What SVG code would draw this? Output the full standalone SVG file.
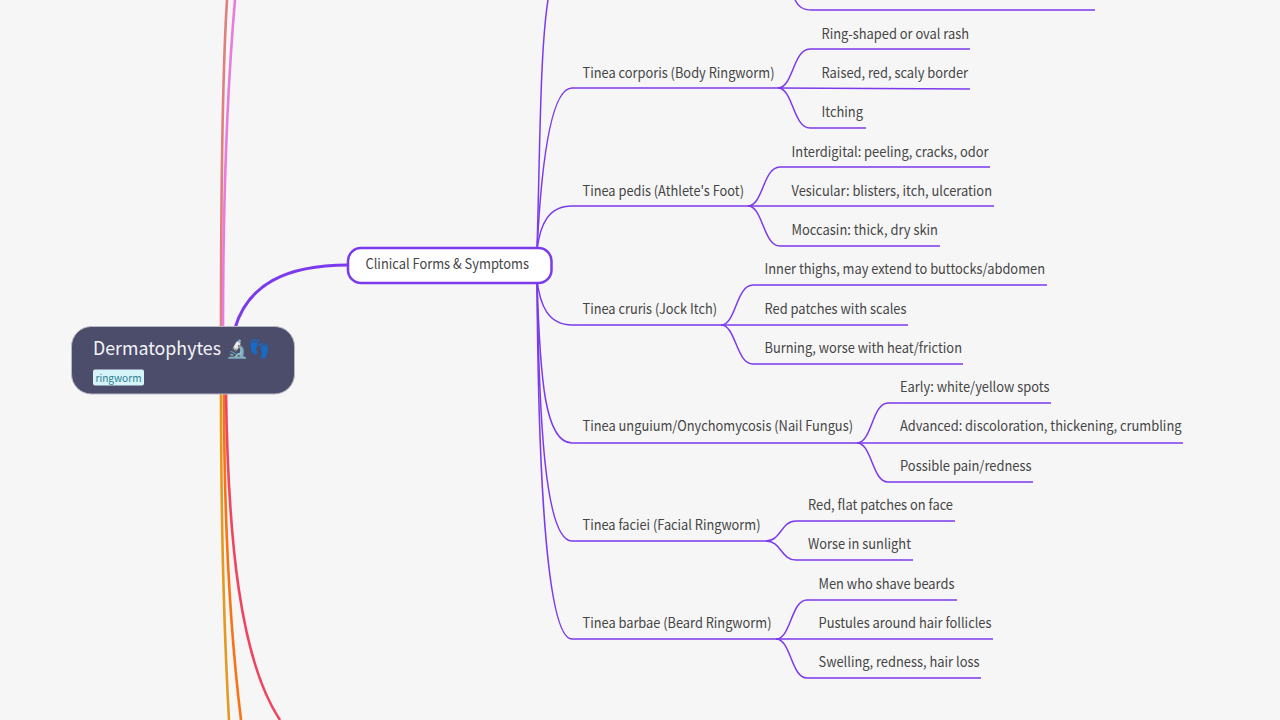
<svg xmlns="http://www.w3.org/2000/svg" width="1280" height="720" viewBox="0 0 1280 720">
<style>
text{font-family:"Noto Sans CJK SC","Noto Sans",sans-serif;fill:#454545}
.t{font-size:14px}
.l{fill:none;stroke:#7c3aed;stroke-width:1.5}
.m{fill:none;stroke-width:2.6}
</style>
<rect width="1280" height="720" fill="#f6f6f6"/>
<g id="connectors">
<path class="m" stroke="#e07f7f" d="M221 330C221 200 222 80 227 0"/>
<path class="m" stroke="#ea7bdc" d="M223 330C223 200 228 80 235 0"/>
<path class="m" stroke="#e39a22" d="M221 392C221 520 224 630 229 720"/>
<path class="m" stroke="#f97316" d="M224 392C224 520 230 630 241 720"/>
<path class="m" stroke="#ef4560" d="M226 392C228 540 240 660 280 720"/>
<path fill="none" stroke="#7c3aed" stroke-width="3" d="M235 328C248 285 285 265 348 265"/>
<path class="l" d="M537 250C540 150 540 50 548 0"/>
<path class="l" d="M537 250C541 170 550 88 572 88H778"/>
<path class="l" d="M537 250C540 225 548 206 572 206H748"/>
<path class="l" d="M537 280C540 305 548 325 572 325H721"/>
<path class="l" d="M537 280C540 380 545 443 572 443H857"/>
<path class="l" d="M537 280C539 420 545 541 572 541H766"/>
<path class="l" d="M537 280C538 450 545 639 572 639H776"/>
<path class="l" d="M778 88C793 88 793 49 810 49H970"/>
<path class="l" d="M778 88L970 89"/>
<path class="l" d="M778 88C793 88 793 128 810 128H866"/>
<path class="l" d="M748 206C763 206 763 167 780 167H990"/>
<path class="l" d="M748 206H994"/>
<path class="l" d="M748 206C763 206 763 246 780 246H940"/>
<path class="l" d="M721 325C736 325 736 285 753 285H1047"/>
<path class="l" d="M721 325H908"/>
<path class="l" d="M721 325C736 325 736 364 753 364H963"/>
<path class="l" d="M857 443C872 443 872 403 888 403H1051"/>
<path class="l" d="M857 443H1183"/>
<path class="l" d="M857 443C872 443 872 482 888 482H1033"/>
<path class="l" d="M766 541C781 541 781 521 796 521H955"/>
<path class="l" d="M766 541C781 541 781 560 796 560H913"/>
<path class="l" d="M776 639C791 639 791 600 807 600H957"/>
<path class="l" d="M776 639H993"/>
<path class="l" d="M776 639C791 639 791 678 807 678H981"/>
<path class="l" d="M795 0C798 6 802 10 812 10H1095"/>
</g>
<g id="root">
<rect x="71.500" y="326.500" width="223" height="67.500" rx="20" fill="#4c4c6b" stroke="#b9b9c6"/>
<text x="93" y="354.500" font-size="18.500" textLength="128" lengthAdjust="spacingAndGlyphs" style="fill:#f4f4f8">Dermatophytes</text>
<text x="226" y="355" font-size="18" style="fill:#f4f4f8">🔬👣</text>
<rect x="93" y="369.500" width="51" height="16" rx="2" fill="#d6f3f9"/>
<text x="95.500" y="382" font-size="11" textLength="46" lengthAdjust="spacingAndGlyphs" style="fill:#2f7f93">ringworm</text>
</g>
<g id="clinical">
<rect x="348" y="248" width="203.500" height="35" rx="13" fill="#fff" stroke="#7c3aed" stroke-width="2.500"/>
<text x="365.500" y="269" class="t" textLength="163.500" lengthAdjust="spacingAndGlyphs">Clinical Forms &amp; Symptoms</text>
</g>
<g id="corporis"><text x="582.500" y="78" class="t" textLength="192" lengthAdjust="spacingAndGlyphs">Tinea corporis (Body Ringworm)</text></g>
<g id="corporis-1"><text x="821.500" y="39" class="t" textLength="147.500" lengthAdjust="spacingAndGlyphs">Ring-shaped or oval rash</text></g>
<g id="corporis-2"><text x="821.500" y="78" class="t" textLength="146.500" lengthAdjust="spacingAndGlyphs">Raised, red, scaly border</text></g>
<g id="corporis-3"><text x="821.500" y="117" class="t" textLength="41.500" lengthAdjust="spacingAndGlyphs">Itching</text></g>
<g id="pedis"><text x="582.500" y="196" class="t" textLength="161.500" lengthAdjust="spacingAndGlyphs">Tinea pedis (Athlete's Foot)</text></g>
<g id="pedis-1"><text x="791.500" y="157" class="t" textLength="197" lengthAdjust="spacingAndGlyphs">Interdigital: peeling, cracks, odor</text></g>
<g id="pedis-2"><text x="791.500" y="196" class="t" textLength="200.500" lengthAdjust="spacingAndGlyphs">Vesicular: blisters, itch, ulceration</text></g>
<g id="pedis-3"><text x="791.500" y="235" class="t" textLength="146.500" lengthAdjust="spacingAndGlyphs">Moccasin: thick, dry skin</text></g>
<g id="cruris"><text x="582.500" y="314" class="t" textLength="134.500" lengthAdjust="spacingAndGlyphs">Tinea cruris (Jock Itch)</text></g>
<g id="cruris-1"><text x="764.500" y="274" class="t" textLength="280.500" lengthAdjust="spacingAndGlyphs">Inner thighs, may extend to buttocks/abdomen</text></g>
<g id="cruris-2"><text x="764.500" y="314" class="t" textLength="142" lengthAdjust="spacingAndGlyphs">Red patches with scales</text></g>
<g id="cruris-3"><text x="764.500" y="353" class="t" textLength="197.500" lengthAdjust="spacingAndGlyphs">Burning, worse with heat/friction</text></g>
<g id="unguium"><text x="582.500" y="431" class="t" textLength="270.500" lengthAdjust="spacingAndGlyphs">Tinea unguium/Onychomycosis (Nail Fungus)</text></g>
<g id="unguium-1"><text x="900" y="392" class="t" textLength="149.500" lengthAdjust="spacingAndGlyphs">Early: white/yellow spots</text></g>
<g id="unguium-2"><text x="900" y="431" class="t" textLength="281.500" lengthAdjust="spacingAndGlyphs">Advanced: discoloration, thickening, crumbling</text></g>
<g id="unguium-3"><text x="900" y="471" class="t" textLength="131.500" lengthAdjust="spacingAndGlyphs">Possible pain/redness</text></g>
<g id="faciei"><text x="582.500" y="530" class="t" textLength="178" lengthAdjust="spacingAndGlyphs">Tinea faciei (Facial Ringworm)</text></g>
<g id="faciei-1"><text x="808" y="510" class="t" textLength="145" lengthAdjust="spacingAndGlyphs">Red, flat patches on face</text></g>
<g id="faciei-2"><text x="808" y="549" class="t" textLength="103" lengthAdjust="spacingAndGlyphs">Worse in sunlight</text></g>
<g id="barbae"><text x="582.500" y="628" class="t" textLength="189" lengthAdjust="spacingAndGlyphs">Tinea barbae (Beard Ringworm)</text></g>
<g id="barbae-1"><text x="818.500" y="589" class="t" textLength="136" lengthAdjust="spacingAndGlyphs">Men who shave beards</text></g>
<g id="barbae-2"><text x="818.500" y="628" class="t" textLength="173" lengthAdjust="spacingAndGlyphs">Pustules around hair follicles</text></g>
<g id="barbae-3"><text x="818.500" y="667" class="t" textLength="161" lengthAdjust="spacingAndGlyphs">Swelling, redness, hair loss</text></g>
</svg>
